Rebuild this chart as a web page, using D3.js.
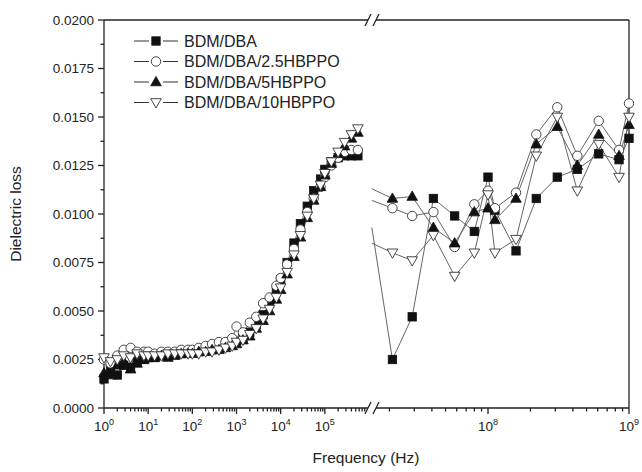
<!DOCTYPE html>
<html>
<head>
<meta charset="utf-8">
<script src="https://cdn.jsdelivr.net/npm/d3@7"></script>
<style>
body { margin: 0; background: #fff; }
text { font-family: "Liberation Sans", Arial, sans-serif; fill: #222; }
</style>
</head>
<body>
<div class="chart"></div>
<script>
var width = 642, height = 472;

// left part of the broken axis (Hz)
var freq_low = [1, 1.4, 2, 2.8, 4, 5.6, 8,
    10, 14, 20, 28, 40, 56, 80,
    100, 140, 200, 280, 400, 560, 800,
    1e3, 1.4e3, 2e3, 2.8e3, 4e3, 5.6e3, 8e3,
    1e4, 1.4e4, 2e4, 2.8e4, 4e4, 5.6e4, 8e4,
    1e5, 1.4e5, 2e5, 2.8e5, 4e5, 5.6e5];
// right part (Hz)
var freq_high = [1.5e7, 2.1e7, 2.9e7, 4.1e7, 5.8e7, 8.0e7, 1.0e8, 1.12e8,
    1.58e8, 2.2e8, 3.1e8, 4.3e8, 6.1e8, 8.5e8, 1.0e9];

var names = ["BDM/DBA", "BDM/DBA/2.5HBPPO", "BDM/DBA/5HBPPO", "BDM/DBA/10HBPPO"];
var symbols = ["square", "circle", "triangle", "down"];

var loss_low_0 = [0.0015, 0.0020, 0.0017, 0.0022, 0.0021, 0.0024, 0.0025,
    0.0026, 0.0026, 0.0027, 0.0027, 0.0028, 0.0028, 0.0029,
    0.0029, 0.0029, 0.0030, 0.0030, 0.0031, 0.0032, 0.0033,
    0.0034, 0.0036, 0.0039, 0.0043, 0.0048, 0.0054, 0.0060,
    0.0066, 0.0075, 0.0085, 0.0095, 0.0104, 0.0112, 0.0118,
    0.0123, 0.0127, 0.0129, 0.0130, 0.0130, 0.0130];
var loss_low_1 = [0.0025, 0.0023, 0.0027, 0.0030, 0.0031, 0.0029, 0.0029,
    0.0029, 0.0028, 0.0029, 0.0029, 0.0029, 0.0030, 0.0030,
    0.0030, 0.0031, 0.0032, 0.0033, 0.0034, 0.0034, 0.0036,
    0.0042, 0.0039, 0.0044, 0.0047, 0.0054, 0.0057, 0.0063,
    0.0067, 0.0074, 0.0082, 0.0092, 0.0101, 0.0108, 0.0114,
    0.0119, 0.0125, 0.0129, 0.0132, 0.0133, 0.0133];
var loss_low_2 = [0.0018, 0.0017, 0.0022, 0.0024, 0.0020, 0.0023, 0.0025,
    0.0026, 0.0026, 0.0027, 0.0026, 0.0027, 0.0028, 0.0028,
    0.0028, 0.0029, 0.0029, 0.0030, 0.0030, 0.0031, 0.0032,
    0.0033, 0.0035, 0.0037, 0.0041, 0.0045, 0.0050, 0.0056,
    0.0061, 0.0069, 0.0078, 0.0088, 0.0098, 0.0107, 0.0114,
    0.0120, 0.0126, 0.0131, 0.0135, 0.0139, 0.0142];
var loss_low_3 = [0.0026, 0.0024, 0.0025, 0.0027, 0.0026, 0.0028, 0.0027,
    0.0027, 0.0027, 0.0027, 0.0028, 0.0028, 0.0028, 0.0028,
    0.0028, 0.0028, 0.0029, 0.0029, 0.0030, 0.0031, 0.0032,
    0.0034, 0.0035, 0.0038, 0.0041, 0.0046, 0.0051, 0.0057,
    0.0062, 0.0070, 0.0079, 0.0089, 0.0099, 0.0108, 0.0115,
    0.0121, 0.0127, 0.0132, 0.0137, 0.0141, 0.0144];

var loss_high_0 = [0.0093, 0.0025, 0.0047, 0.0108, 0.0099, 0.0091, 0.0119, 0.0102,
    0.0081, 0.0108, 0.0119, 0.0123, 0.0131, 0.0128, 0.0139];
var loss_high_1 = [0.0107, 0.0103, 0.0099, 0.0101, 0.0083, 0.0105, 0.0112, 0.0103,
    0.0111, 0.0141, 0.0155, 0.0130, 0.0148, 0.0133, 0.0157];
var loss_high_2 = [0.0113, 0.0108, 0.0109, 0.0093, 0.0085, 0.0101, 0.0103, 0.0097,
    0.0108, 0.0136, 0.0145, 0.0125, 0.0141, 0.0130, 0.0146];
var loss_high_3 = [0.0085, 0.0080, 0.0076, 0.0089, 0.0068, 0.0080, 0.0110, 0.0080,
    0.0087, 0.0130, 0.0150, 0.0112, 0.0136, 0.0119, 0.0150];

var y_ticks = [0, 0.0025, 0.005, 0.0075, 0.01, 0.0125, 0.015, 0.0175, 0.02];

var low = [loss_low_0, loss_low_1, loss_low_2, loss_low_3];
var high = [loss_high_0, loss_high_1, loss_high_2, loss_high_3];

var margin = { top: 20, bottom: 64, left: 104, right: 13 };
var break_left = 368, break_right = 376;

var svg = d3.select(".chart").append("svg")
    .attr("width", width)
    .attr("height", height);

var x_low = d3.scaleLog().domain([1, 1e6]).range([margin.left, 369]);
var x_high = d3.scaleLog().domain([1e8, 1e9]).range([488, width - margin.right]);
var y = d3.scaleLinear().domain([0, 0.02]).range([height - margin.bottom, margin.top]);
var y0 = y(0), y1 = y(0.02);

// minor ticks
function minors(a, b) {
    var out = [];
    for (var e = a; e < b; e++) {
        for (var m = 2; m <= 9; m++) out.push(m * Math.pow(10, e));
    }
    return out;
}

var axis_g = svg.append("g").attr("stroke", "#222").attr("stroke-width", 1.3);

// frame lines
axis_g.append("line").attr("x1", margin.left).attr("x2", margin.left).attr("y1", y0).attr("y2", y1);
axis_g.append("line").attr("x1", width - margin.right).attr("x2", width - margin.right).attr("y1", y0).attr("y2", y1);
[y0, y1].forEach(function(yy) {
    axis_g.append("line").attr("x1", margin.left).attr("x2", break_left).attr("y1", yy).attr("y2", yy);
    axis_g.append("line").attr("x1", break_right).attr("x2", width - margin.right).attr("y1", yy).attr("y2", yy);
    // break marks
    [break_left - 3, break_right - 3].forEach(function(bx) {
        axis_g.append("line")
            .attr("x1", bx).attr("y1", yy + 6)
            .attr("x2", bx + 6).attr("y2", yy - 6);
    });
});

// bottom ticks
var major_low = [1, 10, 100, 1e3, 1e4, 1e5];
var minor_low = minors(0, 6).filter(function(f) { return x_low(f) <= break_left - 3; });
var major_high = [1e8, 1e9];
var minor_high = minors(7, 9).filter(function(f) { return x_high(f) >= break_right + 4; });

function ticks_x(vals, sc, len) {
    axis_g.selectAll(null).data(vals).enter().append("line")
        .attr("x1", function(d) { return sc(d); })
        .attr("x2", function(d) { return sc(d); })
        .attr("y1", y0).attr("y2", y0 + len);
}
ticks_x(major_low, x_low, 6);
ticks_x(minor_low, x_low, 3.5);
ticks_x(major_high, x_high, 6);
ticks_x(minor_high, x_high, 3.5);

// left ticks
axis_g.selectAll(null).data(y_ticks).enter().append("line")
    .attr("x1", margin.left - 6).attr("x2", margin.left)
    .attr("y1", function(d) { return y(d); }).attr("y2", function(d) { return y(d); });
axis_g.selectAll(null).data(y_ticks.slice(0, -1)).enter().append("line")
    .attr("x1", margin.left - 3.5).attr("x2", margin.left)
    .attr("y1", function(d) { return y(d + 0.00125); }).attr("y2", function(d) { return y(d + 0.00125); });

svg.selectAll(null).data(y_ticks).enter().append("text")
    .attr("x", margin.left - 10)
    .attr("y", function(d) { return y(d) + 4.8; })
    .attr("text-anchor", "end")
    .attr("font-size", "13.5px")
    .text(function(d) { return d3.format(".4f")(d); });

function power_labels(vals, sc) {
    var t = svg.selectAll(null).data(vals).enter().append("text")
        .attr("x", function(d) { return sc(d); })
        .attr("y", y0 + 23)
        .attr("text-anchor", "middle")
        .attr("font-size", "13.5px");
    t.append("tspan").text("10");
    t.append("tspan").attr("dy", -6).attr("font-size", "9px")
        .text(function(d) { return Math.round(Math.log10(d)); });
}
power_labels(major_low, x_low);
power_labels(major_high, x_high);

svg.append("text")
    .attr("x", 366).attr("y", 463)
    .attr("text-anchor", "middle")
    .attr("font-size", "15.5px")
    .text("Frequency (Hz)");

svg.append("text")
    .attr("transform", "translate(21," + y(0.01) + ") rotate(-90)")
    .attr("text-anchor", "middle")
    .attr("font-size", "15.5px")
    .text("Dielectric loss");

// markers
function draw_marker(g, type, cx, cy) {
    if (type === "square") {
        g.append("rect").attr("x", cx - 4.2).attr("y", cy - 4.2).attr("width", 8.4).attr("height", 8.4)
            .attr("fill", "#111").attr("stroke", "#111").attr("stroke-width", 0.8);
    } else if (type === "circle") {
        g.append("circle").attr("cx", cx).attr("cy", cy).attr("r", 4.7)
            .attr("fill", "#fff").attr("stroke", "#333").attr("stroke-width", 0.9);
    } else if (type === "triangle") {
        g.append("path").attr("d", "M" + cx + "," + (cy - 5.5) + "L" + (cx + 5.3) + "," + (cy + 3.8) + "L" + (cx - 5.3) + "," + (cy + 3.8) + "Z")
            .attr("fill", "#111").attr("stroke", "#111").attr("stroke-width", 0.8);
    } else {
        g.append("path").attr("d", "M" + cx + "," + (cy + 5.5) + "L" + (cx + 5.3) + "," + (cy - 3.8) + "L" + (cx - 5.3) + "," + (cy - 3.8) + "Z")
            .attr("fill", "#fff").attr("stroke", "#333").attr("stroke-width", 0.9);
    }
}

var line_low = d3.line().x(function(d) { return x_low(d[0]); }).y(function(d) { return y(d[1]); });
var line_high = d3.line().x(function(d) { return x_high(d[0]); }).y(function(d) { return y(d[1]); });

var data_g = svg.append("g");
[0, 1, 2, 3].forEach(function(i) {
    var pts_low = freq_low.map(function(f, j) { return [f, low[i][j]]; });
    var pts_high = freq_high.map(function(f, j) { return [f, high[i][j]]; });
    data_g.append("path").attr("d", line_low(pts_low))
        .attr("fill", "none").attr("stroke", "#666").attr("stroke-width", 1);
    data_g.append("path").attr("d", line_high(pts_high))
        .attr("fill", "none").attr("stroke", "#666").attr("stroke-width", 1);
});
[0, 1, 2, 3].forEach(function(i) {
    var g = data_g.append("g");
    freq_low.forEach(function(f, j) { draw_marker(g, symbols[i], x_low(f), y(low[i][j])); });
    freq_high.forEach(function(f, j) {
        if (j > 0) draw_marker(g, symbols[i], x_high(f), y(high[i][j]));
    });
});

// legend
var legend = svg.append("g");
names.forEach(function(n, i) {
    var ly = 41 + i * 20.5;
    var g = legend.append("g");
    g.append("line").attr("x1", 134).attr("x2", 149).attr("y1", ly).attr("y2", ly).attr("stroke", "#333").attr("stroke-width", 1);
    g.append("line").attr("x1", 163).attr("x2", 178).attr("y1", ly).attr("y2", ly).attr("stroke", "#333").attr("stroke-width", 1);
    draw_marker(g, symbols[i], 156, ly);
    g.append("text").attr("x", 184).attr("y", ly + 5.8)
        .attr("font-size", "16px").text(n);
});
</script>
</body>
</html>
